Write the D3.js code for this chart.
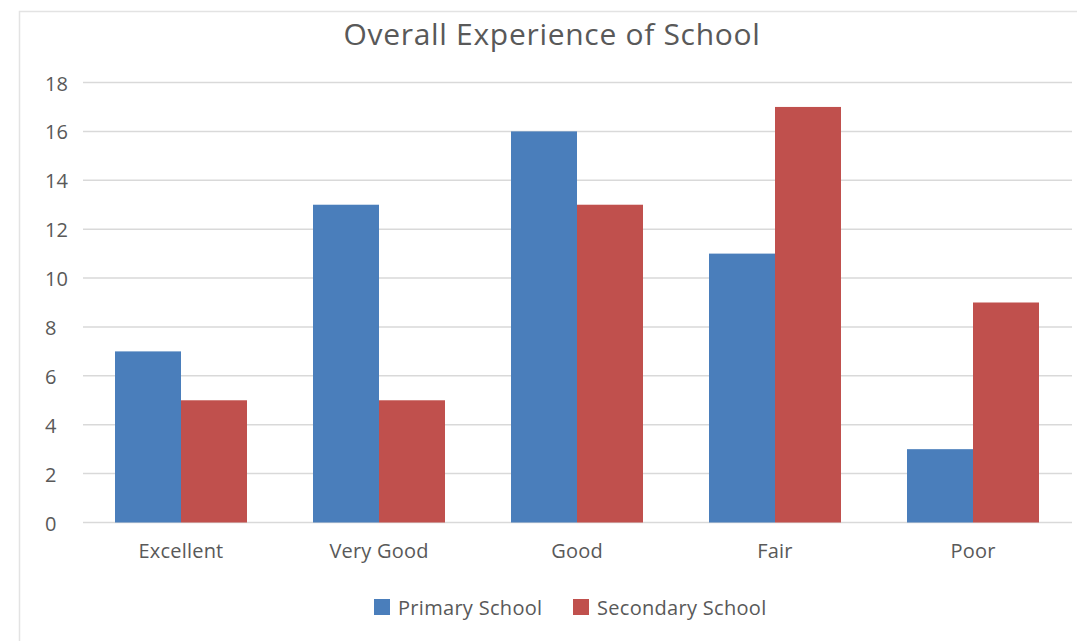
<!DOCTYPE html>
<html><head><meta charset="utf-8">
<script src="https://cdn.jsdelivr.net/npm/d3@7"></script>
<style>body{margin:0;background:#fff;}svg{display:block;font-family:"Open Sans",sans-serif;}</style>
</head><body>
<svg id="c" width="1077" height="641"></svg>
<script>
const categories = ["Excellent","Very Good","Good","Fair","Poor"];
const seriesNames = ["Primary School","Secondary School"];
const primary = [7,13,16,11,3];
const secondary = [5,5,13,17,9];
const yTicks = [0,2,4,6,8,10,12,14,16,18];
const colors = ["#4a7ebb","#c0504d"];

const svg = d3.select("#c");
// frame
svg.append("rect").attr("x",19.5).attr("y",11.5).attr("width",1100).attr("height",700)
  .attr("fill","none").attr("stroke","#e3e3e3").attr("stroke-width",1.5);

const x = d3.scaleBand().domain(categories).range([82,1072]).paddingInner(1/3).paddingOuter(1/6);
const xs = d3.scaleBand().domain(seriesNames).range([0,x.bandwidth()]);
const y = d3.scaleLinear().domain([0,18]).range([522.5,82.5]);

// gridlines
svg.append("g").selectAll("line").data(yTicks).join("line")
  .attr("x1",83).attr("x2",1072).attr("y1",d=>y(d)).attr("y2",d=>y(d))
  .attr("stroke","#d9d9d9").attr("stroke-width",1.5);

// y labels
svg.append("g").selectAll("text").data(yTicks).join("text")
  .attr("x",45).attr("y",d=>y(d)+8)
  .attr("fill","#595959").attr("font-size",20).text(d=>d);

const data = categories.map((c,i)=>({c, vals:[primary[i],secondary[i]]}));
const g = svg.append("g").selectAll("g").data(data).join("g")
  .attr("transform",d=>`translate(${x(d.c)},0)`);
g.selectAll("rect").data(d=>d.vals.map((v,j)=>({v,s:seriesNames[j],j}))).join("rect")
  .attr("x",d=>xs(d.s)).attr("width",xs.bandwidth())
  .attr("y",d=>y(d.v)).attr("height",d=>y(0)-y(d.v))
  .attr("fill",d=>colors[d.j]);

// x labels
svg.append("g").selectAll("text").data(categories).join("text")
  .attr("x",d=>x(d)+x.bandwidth()/2).attr("y",558).attr("text-anchor","middle")
  .attr("fill","#595959").attr("font-size",20).attr("letter-spacing",0.2).text(d=>d);

// title
svg.append("text").attr("x",552).attr("y",45).attr("text-anchor","middle")
  .attr("fill","#595959").attr("font-size",30).attr("letter-spacing",0.7).text("Overall Experience of School");

// legend
const legX = [374,573];
const lg = svg.append("g").selectAll("g").data(seriesNames).join("g")
  .attr("transform",(d,i)=>`translate(${legX[i]},599)`);
lg.append("rect").attr("width",16).attr("height",16).attr("fill",(d,i)=>colors[i]);
lg.append("text").attr("x",24).attr("y",16).attr("fill","#595959").attr("font-size",20).attr("letter-spacing",0.3).text(d=>d);
</script>
</body></html>
